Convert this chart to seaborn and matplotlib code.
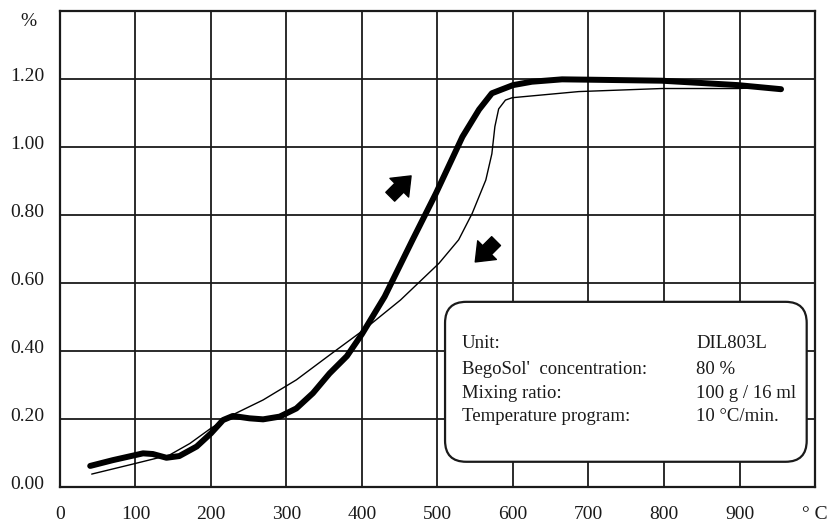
import matplotlib
matplotlib.use("Agg")
import matplotlib.pyplot as plt
import matplotlib.transforms as mtransforms
from matplotlib.patches import FancyBboxPatch
import seaborn as sns
import pandas as pd

# ---- data ----
heat_temp = [40, 70, 110, 123, 141, 158, 181, 200, 216, 229, 251, 269, 291, 313, 335, 357,
             380, 400, 430, 467, 498, 533, 555, 572, 600, 625, 665, 700, 797, 898, 955]
heat_exp = [0.062, 0.079, 0.099, 0.097, 0.086, 0.091, 0.119, 0.158, 0.197, 0.209, 0.202, 0.199,
            0.207, 0.231, 0.276, 0.334, 0.385, 0.45, 0.56, 0.727, 0.864, 1.03, 1.11, 1.158,
            1.182, 1.192, 1.199, 1.198, 1.195, 1.182, 1.17]

cool_temp = [42, 92, 145, 172, 200, 233, 269, 313, 357, 401, 451, 502, 528, 546, 564, 572,
             576, 581, 590, 599, 687, 797, 898, 920]
cool_exp = [0.038, 0.065, 0.094, 0.128, 0.173, 0.217, 0.256, 0.315, 0.388, 0.46, 0.55, 0.658,
            0.727, 0.805, 0.903, 0.98, 1.06, 1.112, 1.138, 1.145, 1.163, 1.172, 1.172, 1.174]

x_ticks = [0, 100, 200, 300, 400, 500, 600, 700, 800, 900, 1000]
x_tick_labels = ["0", "100", "200", "300", "400", "500", "600", "700", "800", "900", "° C"]
y_ticks = [0.0, 0.2, 0.4, 0.6, 0.8, 1.0, 1.2]
y_tick_labels = ["0.00", "0.20", "0.40", "0.60", "0.80", "1.00", "1.20"]
y_unit = "%"

info_labels = ["Unit:", "BegoSol'  concentration:", "Mixing ratio:", "Temperature program:"]
info_values = ["DIL803L", "80 %", "100 g / 16 ml", "10 °C/min."]

# ---- style ----
sns.set_theme(style="white")
plt.rcParams['font.family'] = ['Liberation Serif', 'DejaVu Serif']
ink = "#1a1a1a"

fig = plt.figure(figsize=(8.27, 5.23), dpi=100)
ax = fig.add_axes([0.07255, 0.06883, 0.91294, 0.91013])

df_heat = pd.DataFrame({"T": heat_temp, "dL": heat_exp})
df_cool = pd.DataFrame({"T": cool_temp, "dL": cool_exp})
sns.lineplot(data=df_heat, x="T", y="dL", color="black", lw=4.3, ax=ax,
             solid_capstyle="round", solid_joinstyle="round", sort=False, zorder=4)
sns.lineplot(data=df_cool, x="T", y="dL", color="black", lw=1.0, ax=ax,
             solid_joinstyle="round", sort=False, zorder=4)

ax.set_xlim(0, 1000)
ax.set_ylim(0, 1.4)
ax.set_xticks(x_ticks, x_tick_labels)
ax.set_yticks(y_ticks, y_tick_labels)
ax.set_xlabel("")
ax.set_ylabel("")
ax.grid(True, color=ink, lw=1.3, zorder=1)
ax.set_axisbelow(True)
for s in ax.spines.values():
    s.set_visible(True)
    s.set_color(ink)
    s.set_linewidth(1.6)
ax.tick_params(axis="both", length=0, labelsize=14, colors=ink)
ax.tick_params(axis="x", pad=14)
ax.tick_params(axis="y", pad=11)
off = mtransforms.ScaledTranslation(0, 5 / 100, fig.dpi_scale_trans)
for lab in ax.get_yticklabels():
    lab.set_transform(lab.get_transform() + off)

ax.text(-0.0424, 0.978, y_unit, transform=ax.transAxes, ha="center", va="center",
        fontsize=14, color=ink)

# direction arrows
arrow_style = "simple,head_width=0.95,head_length=0.6,tail_width=0.45"
ax.annotate("", xy=(465, 0.915), xytext=(-15, -15), textcoords="offset points",
            arrowprops=dict(arrowstyle=arrow_style, color="black", mutation_scale=20,
                            shrinkA=0, shrinkB=0), zorder=5)
ax.annotate("", xy=(550, 0.662), xytext=(15, 15), textcoords="offset points",
            arrowprops=dict(arrowstyle=arrow_style, color="black", mutation_scale=20,
                            shrinkA=0, shrinkB=0), zorder=5)

# info box
box = FancyBboxPatch((0.510, 0.053), 0.479, 0.336, transform=ax.transAxes,
                     boxstyle="round,pad=0,rounding_size=0.028", mutation_aspect=755 / 476,
                     facecolor="white", edgecolor=ink, lw=1.6, zorder=6)
ax.add_patch(box)
line_y = [0.4235, 0.347, 0.276, 0.206]
for lab, val, yy in zip(info_labels, info_values, line_y):
    ax.text(532, yy, lab, ha="left", va="center", fontsize=13.5, color=ink, zorder=7)
    ax.text(843, yy, val, ha="left", va="center", fontsize=13.5, color=ink, zorder=7)

fig.savefig("out.png", dpi=100)
